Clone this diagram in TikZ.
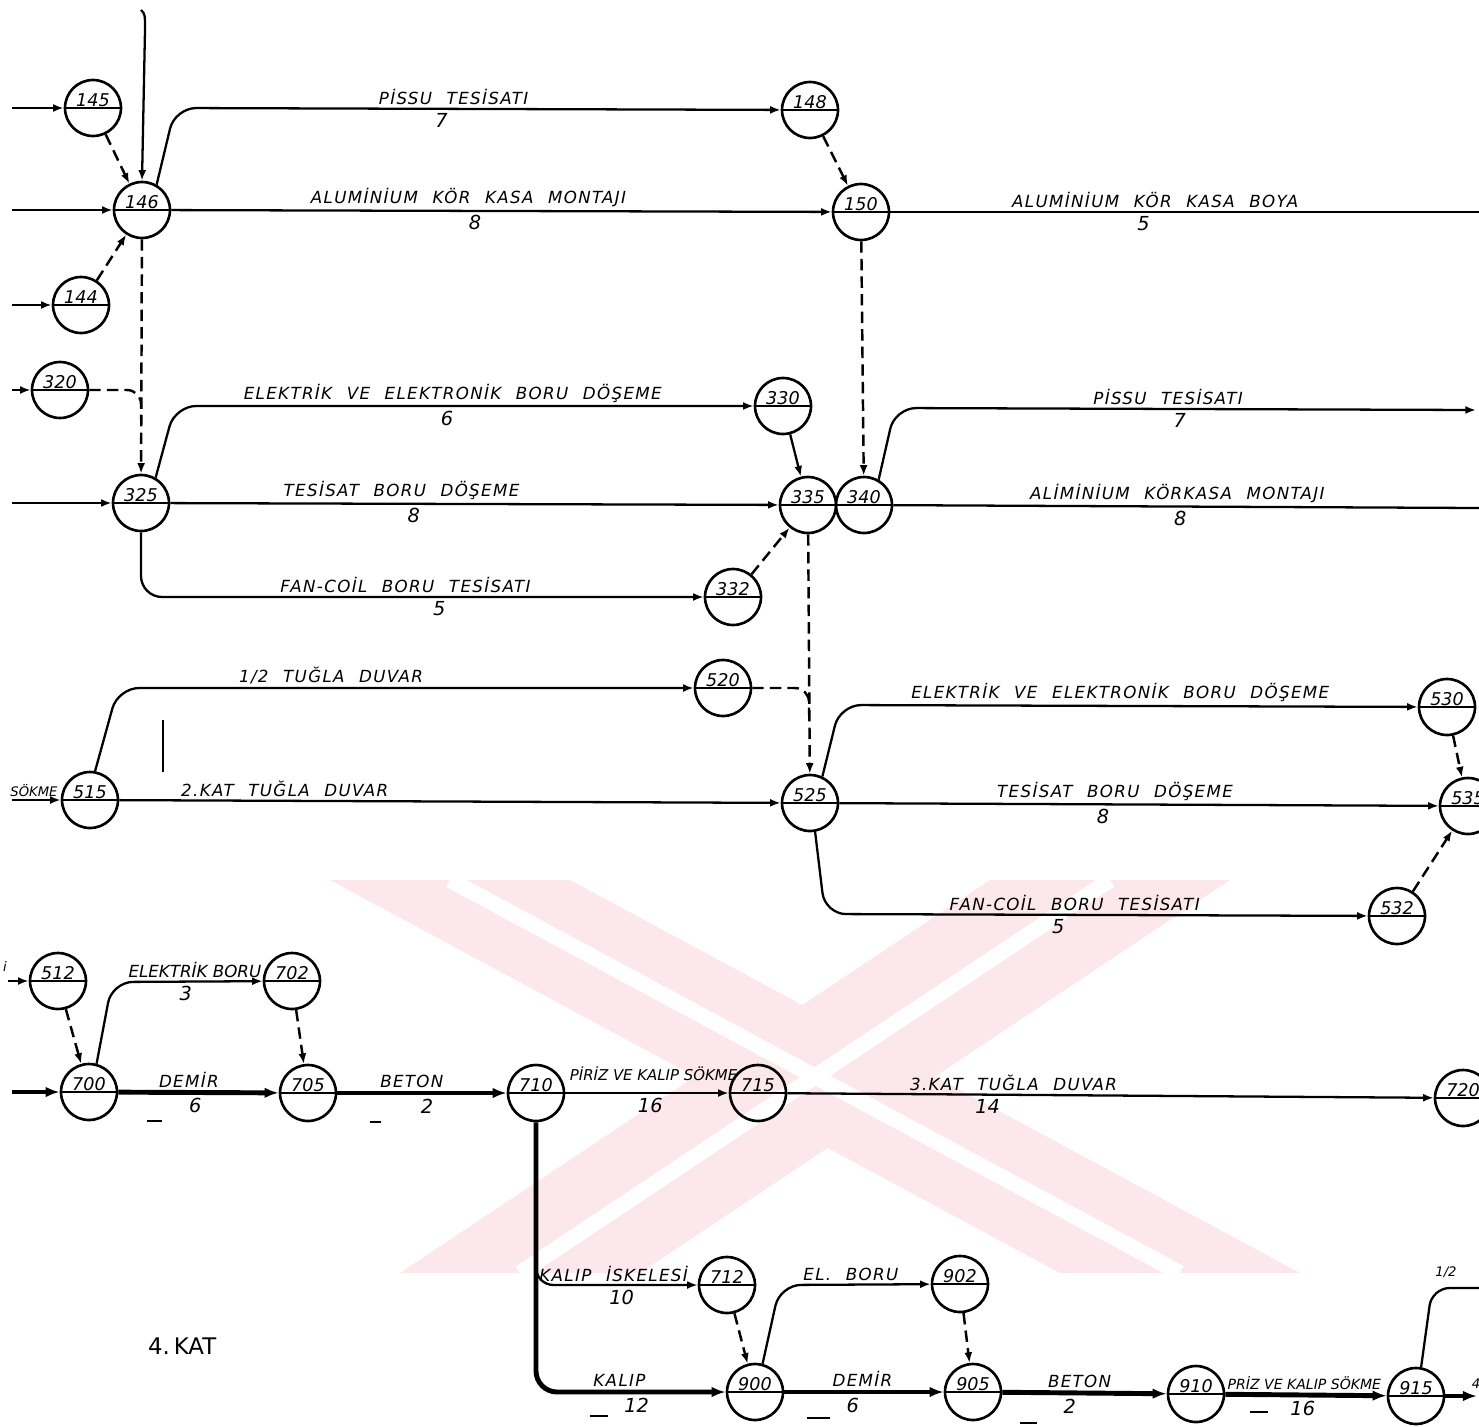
\documentclass[tikz,border=0pt]{standalone}
\usepackage{fontspec}
\usepackage{tikz}
\usetikzlibrary{arrows.meta}
\newfontfamily\hand[WordSpace=2.2,LetterSpace=8]{DejaVu Sans}
\newfontfamily\handn{DejaVu Sans}
\definecolor{wmark}{HTML}{FCE8EC}
\newcommand{\evn}[1]{\raisebox{3.3mm}{#1}}

\begin{document}
\begin{tikzpicture}[
  x=0.02cm, y=-0.02cm,
  ev/.style={circle, draw, line width=1.5pt, minimum size=11.2mm, inner sep=0pt,
    font=\fontsize{10}{11}\handn\itshape,
    path picture={\draw[line width=1.2pt] (path picture bounding box.west) -- (path picture bounding box.east);}},
  act/.style={line width=1.3pt, -{Latex[length=6pt,width=4.5pt]}},
  crit/.style={line width=2.8pt, -{Latex[length=8pt,width=6pt]}},
  dum/.style={line width=1.4pt, dash pattern=on 6.5pt off 3.5pt, -{Latex[length=6pt,width=4.5pt]}},
  lbl/.style={font=\fontsize{9.5}{10}\hand\itshape, inner sep=1.5pt},
  sml/.style={font=\fontsize{7.5}{8}\handn\itshape, inner sep=1.5pt},
  mid/.style={font=\fontsize{8.5}{9}\handn\itshape, inner sep=1.5pt},
  dur/.style={font=\fontsize{11}{12}\handn\itshape, inner sep=2pt},
  slk/.style={line width=1.3pt}
]
\useasboundingbox (0,0) rectangle (1479,1426);
\clip (0,0) rectangle (1479,1426);

% background mark
\fill[wmark] (330,880) -- (570,880) -- (1300,1273) -- (1060,1273) -- cycle;
\fill[wmark] (990,880) -- (1230,880) -- (640,1273) -- (400,1273) -- cycle;
\draw[white, line width=9pt] (450,880) -- (1180,1273);
\draw[white, line width=9pt] (1110,880) -- (520,1273);

% events
\node[ev] (n145) at (93,108) {\evn{145}};
\node[ev] (n146) at (142,210) {\evn{146}};
\node[ev] (n144) at (81,305) {\evn{144}};
\node[ev] (n148) at (810,110) {\evn{148}};
\node[ev] (n150) at (861,212) {\evn{150}};
\node[ev] (n320) at (60,390) {\evn{320}};
\node[ev] (n325) at (141,503) {\evn{325}};
\node[ev] (n330) at (783,406) {\evn{330}};
\node[ev] (n335) at (808,505) {\evn{335}};
\node[ev] (n340) at (864,505) {\evn{340}};
\node[ev] (n332) at (733,597) {\evn{332}};
\node[ev] (n520) at (723,688) {\evn{520}};
\node[ev] (n515) at (90,800) {\evn{515}};
\node[ev] (n525) at (810,803) {\evn{525}};
\node[ev] (n530) at (1447,707) {\evn{530}};
\node[ev] (n535) at (1468,806) {\evn{535}};
\node[ev] (n532) at (1397,916) {\evn{532}};
\node[ev] (n512) at (58,981) {\evn{512}};
\node[ev] (n702) at (292,981) {\evn{702}};
\node[ev] (n700) at (89,1092) {\evn{700}};
\node[ev] (n705) at (308,1093) {\evn{705}};
\node[ev] (n710) at (536,1093) {\evn{710}};
\node[ev] (n715) at (758,1093) {\evn{715}};
\node[ev] (n720) at (1463,1098) {\evn{720}};
\node[ev] (n712) at (727,1285) {\evn{712}};
\node[ev] (n902) at (960,1284) {\evn{902}};
\node[ev] (n900) at (755,1392) {\evn{900}};
\node[ev] (n905) at (973,1392) {\evn{905}};
\node[ev] (n910) at (1196,1394) {\evn{910}};
\node[ev] (n915) at (1416,1396) {\evn{915}};

% free ends
\coordinate (in145) at (12,108);
\coordinate (in146) at (12,210);
\coordinate (top146) at (141,10);
\coordinate (in144) at (12,305);
\coordinate (in320) at (12,390);
\coordinate (in325) at (12,503);
\coordinate (in515) at (12,800);
\coordinate (in512) at (8,981);
\coordinate (in700) at (12,1092);
\coordinate (out150) at (1479,212);
\coordinate (out340a) at (1476,410);
\coordinate (out340b) at (1479,508);
\coordinate (br712) at (536,1262);
\coordinate (out915) at (1477,1396);
\coordinate (out915b) at (1479,1288);

% texts
\node[sml] (sokme) at (34,791) {SÖKME};
\node[sml] (lefti) at (5,966) {i};
\node[sml] (half) at (1446,1272) {1/2};
\node[sml] (four) at (1476,1384) {4};
\node[font=\fontsize{13}{14}\handn, anchor=west] (kat4) at (142,1346) {4.\,KAT};

% upper block
\draw[act] (in145) -- (n145);
\draw[act] (in146) -- (n146);
\draw[act] (in144) -- (n144);
\draw[act] (top146) .. controls (145,14) .. (145,30) -- (n146.north);
\draw[dum] (n145) -- (n146);
\draw[dum] (n144) -- (n146);
\draw[act, rounded corners=12pt] (n146.60) -- (175,108)
  -- node[lbl, above, pos=0.46] {PİSSU TESİSATI} node[dur, below, pos=0.44] {7} (n148);
\draw[act] (n146) -- node[lbl, above, pos=0.45] {ALUMİNİUM KÖR KASA MONTAJI}
  node[dur, below, pos=0.46] {8} (n150);
\draw[dum] (n148) -- (n150);
\draw[act, -] (n150) -- node[lbl, above, pos=0.45] {ALUMİNİUM KÖR KASA BOYA}
  node[dur, below, pos=0.43] {5} (out150);
\draw[dum] (n146) -- (n325);
\draw[act] (in320) -- (n320);
\draw[dum, -, rounded corners=8pt] (n320) -- (141,390) -- (141,420);
\draw[act] (in325) -- (n325);
\draw[act, rounded corners=12pt] (n325.60) -- (175,406)
  -- node[lbl, above, pos=0.48] {ELEKTRİK VE ELEKTRONİK BORU DÖŞEME}
  node[dur, below, pos=0.47] {6} (n330);
\draw[act] (n325) -- node[lbl, above, pos=0.38] {TESİSAT BORU DÖŞEME}
  node[dur, below, pos=0.40] {8} (n335);
\draw[act, rounded corners=12pt] (n325.south) -- (141,597)
  -- node[lbl, above, pos=0.47] {FAN-COİL BORU TESİSATI}
  node[dur, below, pos=0.53] {5} (n332);
\draw[act] (n330) -- (n335);
\draw[dum] (n332) -- (n335);
\draw[dum] (n150) -- (n340);
\draw[act, rounded corners=12pt] (n340.60) -- (895,408)
  -- node[lbl, above, pos=0.47] {PİSSU TESİSATI} node[dur, below, pos=0.49] {7} (out340a);
\draw[act, -] (n340) -- node[lbl, above, pos=0.485] {ALİMİNİUM KÖRKASA MONTAJI}
  node[dur, below, pos=0.49] {8} (out340b);

% middle block
\draw[dum] (n335) -- (n525);
\draw[act] (in515) -- (n515);
\draw[act, rounded corners=12pt] (n515.80) -- (118,688)
  -- node[lbl, above, pos=0.37] {1/2 TUĞLA DUVAR} (n520);
\draw[act] (n515) -- node[lbl, above, pos=0.25] {2.KAT TUĞLA DUVAR} (n525);
\draw[dum, -, rounded corners=8pt] (n520) -- (809,688) -- (809,715);
\draw[act, rounded corners=12pt] (n525.65) -- (840,705)
  -- node[lbl, above, pos=0.485] {ELEKTRİK VE ELEKTRONİK BORU DÖŞEME} (n530);
\draw[act] (n525) -- node[lbl, above, pos=0.46] {TESİSAT BORU DÖŞEME}
  node[dur, below, pos=0.44] {8} (n535);
\draw[act, rounded corners=12pt] (n525.-80) -- (825,914)
  -- node[lbl, above, pos=0.46] {FAN-COİL BORU TESİSATI}
  node[dur, below, pos=0.43] {5} (n532);
\draw[dum] (n530) -- (n535);
\draw[dum] (n532) -- (n535);
\draw[line width=1.6pt] (163,720) -- (163,772);

% lower block
\draw[act] (in512) -- (n512);
\draw[dum] (n512) -- (n700);
\draw[crit] (in700) -- (n700);
\draw[act, rounded corners=12pt] (n700.75) -- (112,982)
  -- node[mid, above, pos=0.55, font=\fontsize{9.5}{10}\handn\itshape] {ELEKTRİK BORU}
  node[dur, below, pos=0.49] {3} (n702);
\draw[dum] (n702) -- (n705);
\draw[crit] (n700) -- node[lbl, above, pos=0.44] {DEMİR} node[dur, below, pos=0.48] {6} (n705);
\draw[crit] (n705) -- node[lbl, above, pos=0.44] {BETON} node[dur, below, pos=0.53] {2} (n710);
\draw[act] (n710) -- node[mid, above=5pt, pos=0.54] {PİRİZ VE KALIP SÖKME}
  node[dur, below, pos=0.52] {16} (n715);
\draw[act] (n715) -- node[lbl, above, pos=0.35] {3.KAT TUĞLA DUVAR}
  node[dur, below, pos=0.31] {14} (n720);
\draw[crit, rounded corners=12pt] (n710.south) -- (536,1392)
  -- node[lbl, above, pos=0.44] {KALIP} node[dur, below, pos=0.53] {12} (n900);
\draw[act, rounded corners=10pt] (br712) -- (536,1285)
  -- node[lbl, above, pos=0.48] {KALIP İSKELESİ} node[dur, below, pos=0.53] {10} (n712);
\draw[dum] (n712) -- (n900);
\draw[act, rounded corners=12pt] (n900.75) -- (780,1285)
  -- node[lbl, above, pos=0.47] {EL. BORU} (n902);
\draw[dum] (n902) -- (n905);
\draw[crit] (n900) -- node[lbl, above, pos=0.49] {DEMİR} node[dur, below, pos=0.43] {6} (n905);
\draw[crit] (n905) -- node[lbl, above, pos=0.47] {BETON} node[dur, below, pos=0.41] {2} (n910);
\draw[crit] (n910) -- node[sml, above, pos=0.49, font=\fontsize{8}{9}\handn\itshape] {PRİZ VE KALIP SÖKME}
  node[dur, below, pos=0.48] {16} (n915);
\draw[crit] (n915) -- (out915);
\draw[act, -, rounded corners=10pt] (n915.80) -- (1432,1288) -- (out915b);
\foreach \xa/\xb/\yy in {147/162/1121, 370/381/1122, 590/608/1416, 807/830/1418, 1020/1037/1423, 1250/1268/1412}
  \draw[slk] (\xa,\yy) -- (\xb,\yy);
\end{tikzpicture}
\end{document}
